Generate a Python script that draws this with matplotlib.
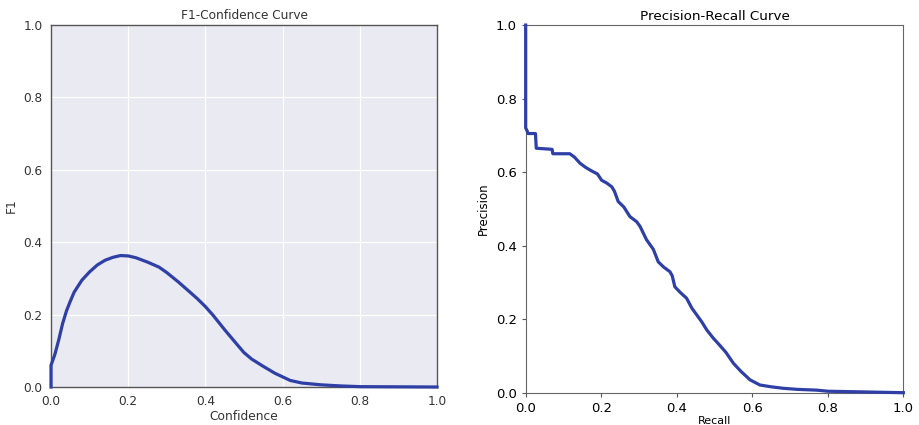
import matplotlib.pyplot as plt

# F1-confidence curve
confidence = [0.0, 0.0, 0.01, 0.02, 0.03, 0.04, 0.05, 0.06, 0.08, 0.10, 0.12, 0.14, 0.16, 0.18,
              0.20, 0.22, 0.25, 0.28, 0.30, 0.33, 0.36, 0.38, 0.40, 0.42, 0.45, 0.48,
              0.50, 0.52, 0.55, 0.58, 0.60, 0.62, 0.65, 0.70, 0.75, 0.80, 0.90, 1.0]
f1 = [0.0, 0.06, 0.09, 0.13, 0.175, 0.21, 0.237, 0.262, 0.295, 0.318, 0.337, 0.35, 0.358, 0.363,
      0.362, 0.357, 0.345, 0.331, 0.316, 0.29, 0.262, 0.243, 0.222, 0.198, 0.158, 0.12,
      0.095, 0.077, 0.057, 0.038, 0.028, 0.018, 0.011, 0.006, 0.003, 0.001, 0.0005, 0.0]

# precision-recall curve
recall = [0.0, 0.0, 0.004, 0.006, 0.026, 0.028, 0.07, 0.072, 0.117, 0.13, 0.144, 0.16, 0.175,
          0.19, 0.201, 0.215, 0.228, 0.235, 0.245, 0.26, 0.276, 0.294, 0.303, 0.32, 0.338,
          0.351, 0.365, 0.382, 0.388, 0.395, 0.41, 0.426, 0.44, 0.466, 0.48, 0.497, 0.506,
          0.53, 0.55, 0.57, 0.594, 0.62, 0.65, 0.682, 0.72, 0.77, 0.8, 0.9, 1.0]
precision = [1.0, 0.72, 0.712, 0.705, 0.705, 0.665, 0.662, 0.65, 0.65, 0.64, 0.624, 0.612, 0.603,
             0.595, 0.578, 0.57, 0.56, 0.548, 0.52, 0.505, 0.479, 0.465, 0.452, 0.416, 0.39,
             0.356, 0.342, 0.329, 0.318, 0.288, 0.272, 0.257, 0.23, 0.193, 0.17, 0.148, 0.138,
             0.11, 0.08, 0.058, 0.035, 0.021, 0.016, 0.012, 0.009, 0.007, 0.004, 0.002, 0.0]

line_color = "#2e3fa6"
ticks = [0, 0.2, 0.4, 0.6, 0.8, 1.0]

fig = plt.figure(figsize=(9.19, 4.25), dpi=100)

# left: seaborn-like dark grid
ax1 = fig.add_axes([0.0555, 0.0894, 0.42, 0.852])
ax1.set_facecolor("#eaeaf2")
ax1.grid(True, color="white", linewidth=0.8)
ax1.set_axisbelow(True)
ax1.plot(confidence, f1, color=line_color, linewidth=2.3, clip_on=False, zorder=5)
ax1.set_xlim(0, 1)
ax1.set_ylim(0, 1)
ax1.set_xticks(ticks)
ax1.set_yticks(ticks)
ax1.tick_params(length=0, labelsize=8.7, labelcolor="#333333", pad=6)
for s in ax1.spines.values():
    s.set_color("#555555")
    s.set_linewidth(1)
ax1.set_title("F1-Confidence Curve", fontsize=8.7, color="#333333", pad=4)
ax1.set_xlabel("Confidence", fontsize=8.8, color="#333333", labelpad=1)
ax1.set_ylabel("F1", fontsize=8.8, color="#333333")

# right: plain white
ax2 = fig.add_axes([0.572, 0.076, 0.411, 0.865])
ax2.plot(recall, precision, color=line_color, linewidth=2.3, clip_on=False, zorder=5)
ax2.set_xlim(0, 1)
ax2.set_ylim(0, 1)
ax2.set_xticks(ticks)
ax2.set_yticks(ticks)
ax2.tick_params(length=3, labelsize=9.5, color="#555555")
for s in ax2.spines.values():
    s.set_color("#666666")
ax2.set_title("Precision-Recall Curve", fontsize=9.7, pad=4)
ax2.set_xlabel("Recall", fontsize=8, labelpad=1)
ax2.set_ylabel("Precision", fontsize=8.5)

fig.savefig("out.png", dpi=100)
